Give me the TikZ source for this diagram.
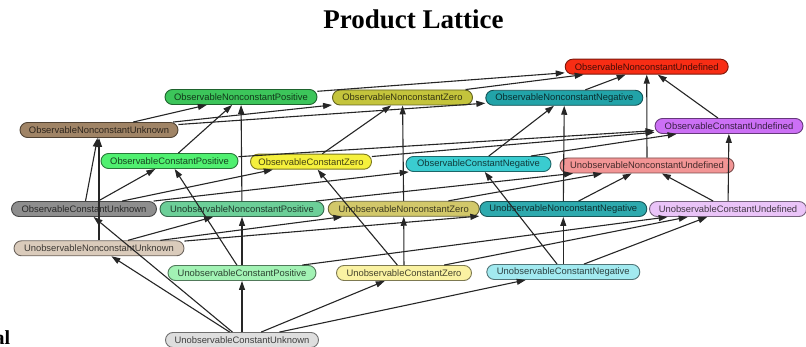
\documentclass[tikz,border=0pt]{standalone}
\usepackage{fontspec}
\setmainfont{Liberation Serif}
\newfontfamily\nodefont{Liberation Sans}
\usetikzlibrary{arrows.meta}
\definecolor{cONU}{HTML}{F82D14}
\definecolor{cONP}{HTML}{3CC55A}
\definecolor{cONZ}{HTML}{C4C43C}
\definecolor{cONN}{HTML}{22A3A8}
\definecolor{cONK}{HTML}{A08466}
\definecolor{cOCU}{HTML}{CC70F5}
\definecolor{cOCP}{HTML}{50F070}
\definecolor{cOCZ}{HTML}{F5F03C}
\definecolor{cOCN}{HTML}{3ACCD0}
\definecolor{cUNU}{HTML}{F29595}
\definecolor{cOCK}{HTML}{8E8E8E}
\definecolor{cUNP}{HTML}{6CCF98}
\definecolor{cUNZ}{HTML}{D2C86A}
\definecolor{cUNN}{HTML}{2EAAAE}
\definecolor{cUCU}{HTML}{EAC4F8}
\definecolor{cUNK}{HTML}{DACBBB}
\definecolor{cUCP}{HTML}{A2F2B4}
\definecolor{cUCZ}{HTML}{FAF2A2}
\definecolor{cUCN}{HTML}{A2EAF0}
\definecolor{cUCK}{HTML}{DEDEDE}
\begin{document}
\begin{tikzpicture}[x=1pt,y=-1pt,
  lat/.style={draw=#1!50!black, fill=#1, text=#1!28!black, rounded corners=7.5pt,
    minimum height=15pt, inner sep=1pt, line width=0.9pt,
    font=\nodefont\fontsize{9.4}{10}\selectfont},
  edge/.style={-{Triangle[length=9pt,width=6pt]}, line width=1.1pt, draw=black!85}]
\useasboundingbox (0,0) rectangle (806,347);
\node[font=\bfseries\fontsize{27}{30}\selectfont, anchor=base] (title) at (413.5,29) {Product Lattice};
\node[font=\bfseries\fontsize{20}{24}\selectfont, anchor=base east, inner sep=0pt] (frag) at (10.5,344.5) {al};

\node[lat=cONU, minimum width=163pt] (ONU) at (646.7,66.7) {ObservableNonconstantUndefined};
\node[lat=cONP, minimum width=152pt] (ONP) at (241,97) {ObservableNonconstantPositive};
\node[lat=cONZ, minimum width=140pt] (ONZ) at (402.5,97.5) {ObservableNonconstantZero};
\node[lat=cONN, minimum width=157pt] (ONN) at (564.3,97.8) {ObservableNonconstantNegative};
\node[lat=cONK, minimum width=158pt] (ONK) at (99,130) {ObservableNonconstantUnknown};
\node[lat=cOCU, minimum width=148pt] (OCU) at (729,126) {ObservableConstantUndefined};
\node[lat=cOCP, minimum width=137pt] (OCP) at (169.5,161) {ObservableConstantPositive};
\node[lat=cOCZ, minimum width=121pt] (OCZ) at (311,161.7) {ObservableConstantZero};
\node[lat=cOCN, minimum width=145pt] (OCN) at (478.5,164) {ObservableConstantNegative};
\node[lat=cUNU, minimum width=174pt] (UNU) at (647,165.5) {UnobservableNonconstantUndefined};
\node[lat=cOCK, minimum width=145pt] (OCK) at (84,209) {ObservableConstantUnknown};
\node[lat=cUNP, minimum width=164pt] (UNP) at (242,209) {UnobservableNonconstantPositive};
\node[lat=cUNZ, minimum width=151pt] (UNZ) at (403.7,208.8) {UnobservableNonconstantZero};
\node[lat=cUNN, minimum width=167pt] (UNN) at (563.3,209) {UnobservableNonconstantNegative};
\node[lat=cUCU, minimum width=157pt] (UCU) at (728,209) {UnobservableConstantUndefined};
\node[lat=cUNK, minimum width=170pt] (UNK) at (99,248.3) {UnobservableNonconstantUnknown};
\node[lat=cUCP, minimum width=148pt] (UCP) at (242,273) {UnobservableConstantPositive};
\node[lat=cUCZ, minimum width=135pt] (UCZ) at (404,273) {UnobservableConstantZero};
\node[lat=cUCN, minimum width=153pt] (UCN) at (563.3,272) {UnobservableConstantNegative};
\node[lat=cUCK, minimum width=153pt] (UCK) at (242,340) {UnobservableConstantUnknown};

\foreach \a/\b in {UCK/UCP,UCK/UCZ,UCK/UCN,UCP/UCU,UCZ/UCU,UCN/UCU,
  UNK/UNP,UNK/UNZ,UNK/UNN,UNP/UNU,UNZ/UNU,UNN/UNU,
  OCK/OCP,OCK/OCZ,OCK/OCN,OCP/OCU,OCZ/OCU,OCN/OCU,
  ONK/ONP,ONK/ONZ,ONK/ONN,ONP/ONU,ONZ/ONU,ONN/ONU,
  UCK/UNK,UCP/UNP,UCZ/UNZ,UCN/UNN,UCU/UNU,
  OCK/ONK,OCP/ONP,OCZ/ONZ,OCN/ONN,OCU/ONU,
  UCK/OCK,UCP/OCP,UCZ/OCZ,UCN/OCN,UCU/OCU,
  UNK/ONK,UNP/ONP,UNZ/ONZ,UNN/ONN,UNU/ONU}
  \draw[edge] (\a) -- (\b);
\end{tikzpicture}
\end{document}
